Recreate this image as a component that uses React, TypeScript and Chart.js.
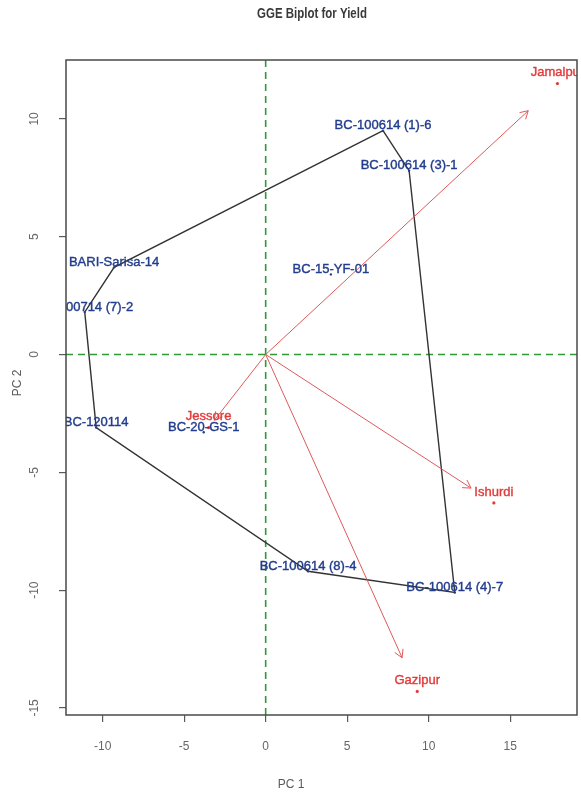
import { useEffect, useRef } from "react";
import { Chart, registerables } from "chart.js";

Chart.register(...registerables);

// ---- Data ----
const genotypes = [
  "BC-100614 (1)-6",
  "BC-100614 (3)-1",
  "BC-15-YF-01",
  "BARI-Sarisa-14",
  "BC-100714 (7)-2",
  "BC-120114",
  "BC-20-GS-1",
  "BC-100614 (8)-4",
  "BC-100614 (4)-7",
];
const genoPC1 = [7.2, 8.8, 4.0, -9.3, -11.1, -10.4, -3.8, 2.6, 11.6];
const genoPC2 = [9.5, 7.8, 3.4, 3.7, 1.8, -3.1, -3.3, -9.2, -10.1];
// polygon (convex hull) order, by genotype index
const hullOrder = [0, 1, 8, 7, 5, 4, 3, 0];

const environments = ["Jamalpur", "Ishurdi", "Gazipur", "Jessore"];
const envPC1 = [17.9, 14.0, 9.3, -3.5];
const envPC2 = [11.5, -6.3, -14.3, -3.1];
const arrowScale = 0.9;

const xTicks = [-10, -5, 0, 5, 10, 15];
const yTicks = [-15, -10, -5, 0, 5, 10];
const xRange = [-12.25, 19.1];
const yRange = [-15.3, 12.5];

const titleText = "GGE Biplot for Yield";
const xTitle = "PC 1";
const yTitle = "PC 2";

const FONT = "'Liberation Sans', Arial, Helvetica, sans-serif";
const BLUE = "#223d8c";
const RED = "#e23b3b";
const ARROW = "#de5a5a";
const GREEN = "#2f9a35";
const GRAY = "#5a5a5a";

const overlayPlugin = {
  id: "biplotOverlay",
  afterDatasetsDraw(chart: any) {
    const { ctx, chartArea } = chart;
    const xs = chart.scales.x;
    const ys = chart.scales.y;
    ctx.save();
    ctx.beginPath();
    ctx.rect(chartArea.left, chartArea.top, chartArea.right - chartArea.left, chartArea.bottom - chartArea.top);
    ctx.clip();

    // arrowheads
    const ox = xs.getPixelForValue(0);
    const oy = ys.getPixelForValue(0);
    ctx.strokeStyle = ARROW;
    ctx.lineWidth = 1;
    environments.forEach((_, i) => {
      const tx = xs.getPixelForValue(envPC1[i] * arrowScale);
      const ty = ys.getPixelForValue(envPC2[i] * arrowScale);
      const ang = Math.atan2(ty - oy, tx - ox);
      const len = 9;
      const spread = Math.PI / 6;
      ctx.beginPath();
      ctx.moveTo(tx - len * Math.cos(ang - spread), ty - len * Math.sin(ang - spread));
      ctx.lineTo(tx, ty);
      ctx.lineTo(tx - len * Math.cos(ang + spread), ty - len * Math.sin(ang + spread));
      ctx.stroke();
    });

    // environment labels
    ctx.font = `13px ${FONT}`;
    ctx.textAlign = "center";
    ctx.textBaseline = "middle";
    ctx.lineWidth = 0.4;
    ctx.fillStyle = RED;
    ctx.strokeStyle = RED;
    environments.forEach((name, i) => {
      const px = xs.getPixelForValue(envPC1[i]);
      const py = ys.getPixelForValue(envPC2[i]);
      ctx.fillText(name, px, py - 11);
      ctx.strokeText(name, px, py - 11);
    });

    // genotype labels
    ctx.fillStyle = BLUE;
    ctx.strokeStyle = BLUE;
    genotypes.forEach((name, i) => {
      const px = xs.getPixelForValue(genoPC1[i]);
      const py = ys.getPixelForValue(genoPC2[i]);
      ctx.fillText(name, px, py - 5);
      ctx.strokeText(name, px, py - 5);
    });
    ctx.restore();

    // plot box
    ctx.save();
    ctx.strokeStyle = "#4a4a4a";
    ctx.lineWidth = 1.5;
    ctx.strokeRect(chartArea.left, chartArea.top, chartArea.right - chartArea.left, chartArea.bottom - chartArea.top);
    ctx.restore();
  },
  afterDraw(chart: any) {
    const { ctx } = chart;
    ctx.save();
    ctx.fillStyle = "#3a3a3a";
    ctx.textAlign = "center";
    ctx.textBaseline = "middle";
    ctx.font = `bold 14px ${FONT}`;
    ctx.translate(312, 14);
    ctx.scale(0.82, 1.05);
    ctx.fillText(titleText, 0, 0);
    ctx.restore();

    ctx.save();
    ctx.fillStyle = GRAY;
    ctx.textAlign = "center";
    ctx.textBaseline = "middle";
    ctx.font = `12px ${FONT}`;
    ctx.fillText(xTitle, 291, 785);
    ctx.translate(18, 383);
    ctx.rotate(-Math.PI / 2);
    ctx.fillText(yTitle, 0, 0);
    ctx.restore();
  },
};

export default function App() {
  const ref = useRef<HTMLCanvasElement | null>(null);

  useEffect(() => {
    document.body.style.margin = "0";
    const canvas = ref.current;
    if (!canvas) return;

    const hullData = hullOrder.map((g) => ({ x: genoPC1[g], y: genoPC2[g] }));
    const arrowSets = environments.map((name, i) => ({
      label: name,
      data: [
        { x: 0, y: 0 },
        { x: envPC1[i] * arrowScale, y: envPC2[i] * arrowScale },
      ],
      showLine: true,
      borderColor: ARROW,
      borderWidth: 1,
      pointRadius: 0,
      order: 3,
    }));

    const chart = new Chart(canvas, {
      type: "scatter",
      data: {
        datasets: [
          {
            label: "h0",
            data: [
              { x: xRange[0], y: 0 },
              { x: xRange[1], y: 0 },
            ],
            showLine: true,
            borderColor: GREEN,
            borderWidth: 1.6,
            borderDash: [7, 5],
            pointRadius: 0,
            order: 6,
          },
          {
            label: "v0",
            data: [
              { x: 0, y: yRange[0] },
              { x: 0, y: yRange[1] },
            ],
            showLine: true,
            borderColor: GREEN,
            borderWidth: 1.6,
            borderDash: [7, 5],
            pointRadius: 0,
            order: 6,
          },
          {
            label: "hull",
            data: hullData,
            showLine: true,
            borderColor: "#333333",
            borderWidth: 1.4,
            pointRadius: 0,
            order: 4,
          },
          ...arrowSets,
          {
            label: "genotypes",
            data: genotypes.map((_, i) => ({ x: genoPC1[i], y: genoPC2[i] })),
            pointRadius: 1.2,
            pointBackgroundColor: BLUE,
            borderWidth: 0,
            order: 2,
          },
          {
            label: "environments",
            data: environments.map((_, i) => ({ x: envPC1[i], y: envPC2[i] })),
            pointRadius: 1.6,
            pointBackgroundColor: RED,
            borderWidth: 0,
            order: 2,
          },
        ],
      },
      options: {
        responsive: false,
        animation: false,
        devicePixelRatio: 1,
        layout: { padding: { top: 60, right: 1, left: 0, bottom: 0 } },
        plugins: {
          legend: { display: false },
          title: { display: false },
          tooltip: { enabled: false },
        },
        scales: {
          x: {
            type: "linear",
            min: xRange[0],
            max: xRange[1],
            afterBuildTicks: (s: any) => {
              s.ticks = xTicks.map((v) => ({ value: v }));
            },
            afterFit: (s: any) => {
              s.height = 80;
            },
            border: { display: false },
            grid: { drawOnChartArea: false, drawTicks: true, tickLength: 7, color: GRAY, lineWidth: 1.2 },
            ticks: {
              color: "#666",
              font: { family: FONT, size: 12 },
              padding: 17,
              autoSkip: false,
              maxRotation: 0,
              callback: (v: any) => String(v),
            },
          },
          y: {
            type: "linear",
            min: yRange[0],
            max: yRange[1],
            afterBuildTicks: (s: any) => {
              s.ticks = yTicks.map((v) => ({ value: v }));
            },
            afterFit: (s: any) => {
              s.width = 66;
            },
            border: { display: false },
            grid: { drawOnChartArea: false, drawTicks: true, tickLength: 7, color: GRAY, lineWidth: 1.2 },
            ticks: {
              color: "#666",
              font: { family: FONT, size: 12 },
              padding: 16,
              autoSkip: false,
              minRotation: 90,
              maxRotation: 90,
              crossAlign: "center",
              callback: (v: any) => String(v),
            },
          },
        },
      },
      plugins: [overlayPlugin],
    } as any);

    return () => chart.destroy();
  }, []);

  return (
    <canvas
      ref={ref}
      width={581}
      height={795}
      style={{ display: "block", width: 581, height: 795 }}
    />
  );
}
